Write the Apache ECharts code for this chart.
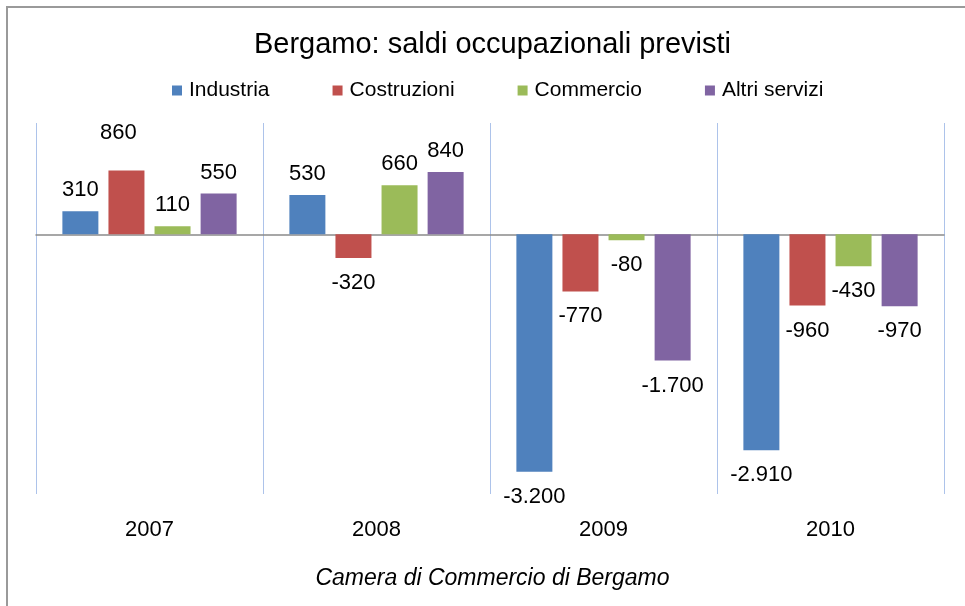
<!DOCTYPE html>
<html lang="it">

<head>
    <meta charset="UTF-8">
    <title>Bergamo: saldi occupazionali previsti</title>
    <script src="https://cdn.jsdelivr.net/npm/echarts@6/dist/echarts.min.js"></script>
    <style>
        body {
            margin: 0;
            width: 965px;
            height: 606px;
            overflow: hidden;
            background: #fff;
        }

        #main {
            width: 985px;
            height: 606px;
        }
    </style>
</head>

<body>
    <div id="main"></div>

    <script>
        // dati
        const categories = ['2007', '2008', '2009', '2010'];
        const industria = [310, 530, -3200, -2910];
        const costruzioni = [860, -320, -770, -960];
        const commercio = [110, 660, -80, -430];
        const altriServizi = [550, 840, -1700, -970];

        const seriesNames = ['Industria', 'Costruzioni', 'Commercio', 'Altri servizi'];
        const seriesColors = ['#4f81bd', '#c0504d', '#9bbb59', '#8064a2'];
        const seriesData = [industria, costruzioni, commercio, altriServizi];

        const font = '"Liberation Sans", Arial, sans-serif';

        // separatore delle migliaia all'italiana: -3.200
        function formatIt(v) {
            const s = Math.abs(v).toString().replace(/\B(?=(\d{3})+(?!\d))/g, '.');
            return (v < 0 ? '-' : '') + s;
        }

        const myChart = echarts.init(document.getElementById('main'));

        const series = seriesData.map((values, i) => ({
            name: seriesNames[i],
            type: 'bar',
            xAxisIndex: 0,
            barWidth: 36,
            barGap: '28%',
            itemStyle: { color: seriesColors[i] },
            data: values.map((v, j) => {
                const label = v < 0 ? { position: 'bottom', distance: 14 } : { position: 'top', distance: 10 };
                // nell'originale l'etichetta 860 è spostata a mano
                if (i === 1 && j === 0) label.offset = [-8, -17];
                return { value: v, label: label };
            }),
            label: {
                show: true,
                fontFamily: font,
                fontSize: 22,
                color: '#000',
                formatter: p => formatIt(p.value)
            }
        }));

        const option = {
            animation: false,
            title: [{
                text: 'Bergamo: saldi occupazionali previsti',
                left: 'center',
                top: 25,
                textStyle: { fontFamily: font, fontSize: 29, fontWeight: 'normal', color: '#000' }
            }, {
                text: 'Camera di Commercio di Bergamo',
                left: 'center',
                top: 562,
                textStyle: { fontFamily: font, fontSize: 23, fontWeight: 'normal', fontStyle: 'italic', color: '#000' }
            }],
            legend: {
                top: 75,
                left: 167,
                icon: 'rect',
                itemWidth: 10,
                itemHeight: 10,
                itemGap: 63,
                textStyle: { fontFamily: font, fontSize: 21, color: '#000', padding: [0, 0, 0, 2] },
                data: seriesNames
            },
            grid: {
                left: 36,
                right: 41,
                top: 123,
                bottom: 112,
                containLabel: false
            },
            xAxis: [{
                type: 'category',
                data: categories,
                axisLine: { onZero: true, lineStyle: { color: '#8a8a8a', width: 1.5 } },
                axisTick: { show: false },
                axisLabel: { show: false },
                splitLine: { show: true, lineStyle: { color: '#adc3ea', width: 1 } }
            }, {
                type: 'category',
                data: categories,
                position: 'bottom',
                axisLine: { show: false, onZero: false },
                axisTick: { show: false },
                splitLine: { show: false },
                axisLabel: { margin: 25, fontFamily: font, fontSize: 22, color: '#000' }
            }],
            yAxis: {
                type: 'value',
                min: -3500,
                max: 1500,
                interval: 500,
                axisLine: { show: false },
                axisTick: { show: false },
                axisLabel: { show: false },
                splitLine: { show: false }
            },
            graphic: [{
                type: 'rect',
                silent: true,
                shape: { x: 7, y: 7, width: 1000, height: 700 },
                style: { fill: 'none', stroke: '#9a9a9a', lineWidth: 2 }
            }],
            series: series
        };

        myChart.setOption(option);
    </script>
</body>

</html>
